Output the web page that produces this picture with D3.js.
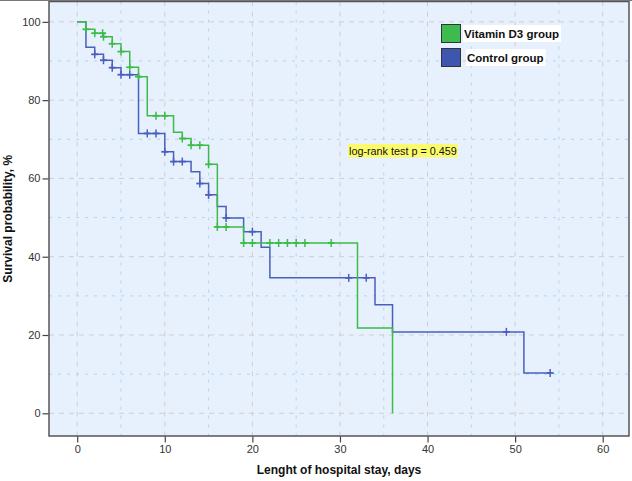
<!DOCTYPE html>
<html><head><meta charset="utf-8">
<script src="https://cdn.jsdelivr.net/npm/d3@7"></script>
<style>
html,body{margin:0;padding:0;background:#fff;}
svg{display:block;font-family:"Liberation Sans",Arial,sans-serif;}
</style></head>
<body>
<svg id="chart" width="632" height="481"></svg>
<script>
// ---- Data ----
const seriesNames = ["Vitamin D3 group", "Control group"];
const vitTimes  = [0, 1, 2, 3, 4, 5, 6, 7, 8, 11, 12, 13, 15, 16, 19, 32, 36];
const vitSurv   = [100, 98.1, 97.1, 96.2, 94.4, 92.4, 88.4, 86.0, 76.0, 71.8, 70.2, 68.5, 63.6, 47.6, 43.5, 21.8, 0];
const vitCensor = [1, 2, 2.9, 3, 4, 5, 6, 7, 9, 10, 12, 13, 14, 15, 16, 17, 19, 20, 22, 23, 24, 25, 26, 29];
const ctlTimes  = [0, 1, 2, 3, 4, 5, 7, 10, 11, 13, 14, 15, 16, 17, 19, 21, 22, 34, 36, 51, 54];
const ctlSurv   = [100, 93.5, 91.7, 90.2, 88.3, 86.5, 71.5, 66.8, 64.3, 61.7, 58.7, 55.8, 52.8, 49.9, 46.4, 42.4, 34.6, 27.7, 20.8, 10.3, 10.3];
const ctlCensor = [2, 3, 4, 5, 6, 8, 9, 10, 11, 12, 14, 15, 17, 20, 31, 33, 49, 54];
const xTicks = [0, 10, 20, 30, 40, 50, 60];
const yTicks = [0, 20, 40, 60, 80, 100];
const annotation = "log-rank test p = 0.459";
const xTitle = "Lenght of hospital stay, days";
const yTitle = "Survival probability, %";

// ---- Layout ----
const svg = d3.select("#chart");
const L = 49, R = 629, T = 1.5, B = 436;
const x = d3.scaleLinear().domain([-3.22, 63]).range([L, R]);
const y = d3.scaleLinear().domain([-5.8, 105.2]).range([B, T]);
const green = "#3dbb4a", blue = "#4a5fbd";

svg.append("rect").attr("x", L).attr("y", T).attr("width", R - L).attr("height", B - T).attr("fill", "#e6f1fd");

// grid
const g = svg.append("g");
d3.range(0, 61, 5).forEach(v => {
  const major = v % 10 === 0;
  g.append("line").attr("x1", x(v)).attr("x2", x(v)).attr("y1", T).attr("y2", B)
    .attr("stroke", major ? "#d3cccf" : "#b6d3f0").attr("stroke-width", 1)
    .attr("stroke-dasharray", major ? "5,5" : "3,6");
});
d3.range(0, 101, 10).forEach(v => {
  const major = v % 20 === 0;
  g.append("line").attr("x1", L).attr("x2", R).attr("y1", y(v)).attr("y2", y(v))
    .attr("stroke", major ? "#d3cccf" : "#b6d3f0").attr("stroke-width", 1)
    .attr("stroke-dasharray", major ? "5,5" : "3,6");
});

// curves
function survAt(times, surv, t) {
  let s = surv[0];
  for (let i = 0; i < times.length; i++) if (times[i] <= t) s = surv[i];
  return s;
}
const line = d3.line().x(d => x(d[0])).y(d => y(d[1])).curve(d3.curveStepAfter);
const series = [
  {times: ctlTimes, surv: ctlSurv, cens: ctlCensor, color: blue},
  {times: vitTimes, surv: vitSurv, cens: vitCensor, color: green}
];
series.forEach(s => {
  const pts = s.times.map((t, i) => [t, s.surv[i]]);
  svg.append("path").attr("d", line(pts)).attr("fill", "none")
    .attr("stroke", s.color).attr("stroke-width", 1.5);
  s.cens.forEach(t => {
    const cx = x(t), cy = y(survAt(s.times, s.surv, t));
    svg.append("line").attr("x1", cx).attr("x2", cx).attr("y1", cy - 4).attr("y2", cy + 4)
      .attr("stroke", s.color).attr("stroke-width", 1.5);
    svg.append("line").attr("x1", cx - 3.5).attr("x2", cx + 3.5).attr("y1", cy).attr("y2", cy)
      .attr("stroke", s.color).attr("stroke-width", 1.8);
  });
});

// legend
const legColors = ["#3dbb4f", "#3e56ae"];
const legY = [24, 48];
const legTx = [463, 466];
seriesNames.forEach((n, i) => {
  svg.append("rect").attr("x", 441.5).attr("y", legY[i] + 0.5).attr("width", 19).attr("height", 18)
    .attr("fill", legColors[i]).attr("stroke", "#333").attr("stroke-width", 1);
  const bg = svg.append("rect").attr("fill", "#fff");
  const t = svg.append("text").attr("x", legTx[i] + 1).attr("y", legY[i] + 13.5)
    .attr("font-size", "11.5px").attr("font-weight", "bold").attr("fill", "#111").text(n);
  const bb = t.node().getBBox();
  bg.attr("x", legTx[i]).attr("y", legY[i] + 1).attr("width", bb.width + 3).attr("height", 17);
});

// annotation
const abg = svg.append("rect").attr("fill", "#fbfb6c");
const at = svg.append("text").attr("x", 349).attr("y", 154.5).attr("font-size", "10.8px").attr("fill", "#111").text(annotation);
const abb = at.node().getBBox();
abg.attr("x", 348).attr("y", 144).attr("width", abb.width + 2).attr("height", 13.5);

// border
svg.append("rect").attr("x", L).attr("y", T).attr("width", R - L).attr("height", B - T)
  .attr("fill", "none").attr("stroke", "#555").attr("stroke-width", 1.5);
svg.append("rect").attr("x", 0).attr("y", 0).attr("width", 632).attr("height", 1).attr("fill", "#777");

// axes
const xAxis = d3.axisBottom(x).tickValues(xTicks).tickSize(6).tickSizeOuter(0).tickPadding(3);
const xa = svg.append("g").attr("transform", `translate(0,${B + 0.5})`).call(xAxis);
const yAxis = d3.axisLeft(y).tickValues(yTicks).tickSize(6).tickSizeOuter(0).tickPadding(2);
const ya = svg.append("g").attr("transform", `translate(${L - 0.5},0)`).call(yAxis);
[xa, ya].forEach(a => {
  a.select(".domain").remove();
  a.selectAll(".tick line").attr("stroke", "#444").attr("stroke-width", 1.2);
  a.selectAll(".tick text").attr("fill", "#333").attr("font-size", "11px").attr("font-family", "Liberation Sans, Arial, sans-serif");
});

svg.append("text").attr("x", (L + R) / 2).attr("y", 474).attr("text-anchor", "middle")
  .attr("font-size", "12px").attr("font-weight", "bold").attr("fill", "#111").text(xTitle);
svg.append("text").attr("transform", `translate(12,${(T + B) / 2}) rotate(-90)`).attr("text-anchor", "middle")
  .attr("font-size", "12px").attr("font-weight", "bold").attr("fill", "#111").text(yTitle);
</script>
</body></html>
